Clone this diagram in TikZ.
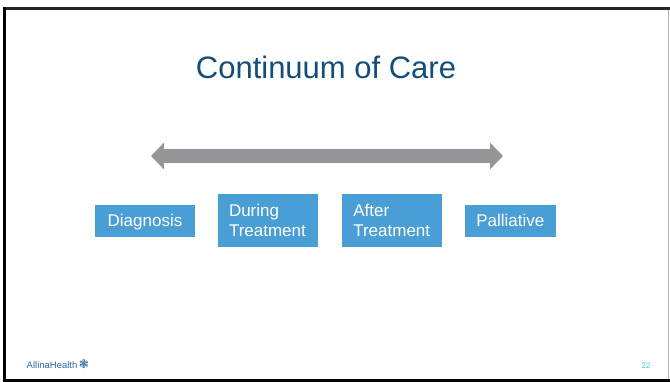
\documentclass[tikz,border=0pt]{standalone}
\usepackage{fontspec}
\setmainfont{Liberation Sans}
\newfontfamily\symfont{DejaVu Sans}
\usetikzlibrary{arrows.meta}
\definecolor{titleblue}{HTML}{124E78}
\definecolor{boxblue}{HTML}{4A9ED6}
\definecolor{arrowgray}{HTML}{939598}
\definecolor{logoblue}{HTML}{2B6CA3}
\definecolor{pagecyan}{HTML}{4FC3DC}
\tikzset{
  stagebox/.style={fill=boxblue, text=white, font=\fontsize{17}{20}\selectfont, inner sep=0pt},
  twoline/.style={stagebox, text width=77.4pt, align=left, minimum height=52.7pt},
  oneline/.style={stagebox, text depth=0pt, minimum height=31.7pt},
  frameline/.style={line width=3pt}
}
\begin{document}
\begin{tikzpicture}[x=1pt,y=-1pt]
\useasboundingbox (0,0) rectangle (670,382);
\fill[white] (0,0) rectangle (670,382);
% slide frame
\draw[frameline, black!85] (3,8.5) -- (670,8.5);
\draw[frameline, black] (4.5,7) -- (4.5,382);
\draw[frameline, black] (3,380.5) -- (670,380.5);
\draw[line width=1pt, black!30] (668.5,10) -- (668.5,379);
% title
\node[anchor=base, text=titleblue, font=\fontsize{31}{36}\selectfont, inner sep=0pt] (title) at (326,78.3) {Continuum of Care};
% arrow
\coordinate (aleft) at (151,156);
\coordinate (aright) at (503,156);
\draw[arrowgray, line width=13.4pt, {Triangle[length=13pt,width=26pt]}-{Triangle[length=13pt,width=26pt]}] (aleft) -- (aright);
% stages
\node[oneline, minimum width=100pt] (diag) at (145,220.8) {Diagnosis};
\node[twoline, minimum width=100pt] (during) at (267.7,220.3) {During\\Treatment};
\node[twoline, minimum width=100pt] (after) at (392,220.3) {After\\Treatment};
\node[oneline, minimum width=90.7pt] (pall) at (510.3,220.8) {Palliative};
% footer
\node[anchor=base west, inner sep=0pt, text=logoblue, font=\fontsize{9.5}{11}\selectfont] (logo) at (26.5,368.3) {AllinaHealth\,{\symfont\fontsize{12}{12}\selectfont ❃}};
\node[anchor=base west, inner sep=0pt, text=pagecyan, font=\fontsize{8}{9}\selectfont] (page) at (641.5,368) {22};
\end{tikzpicture}
\end{document}
